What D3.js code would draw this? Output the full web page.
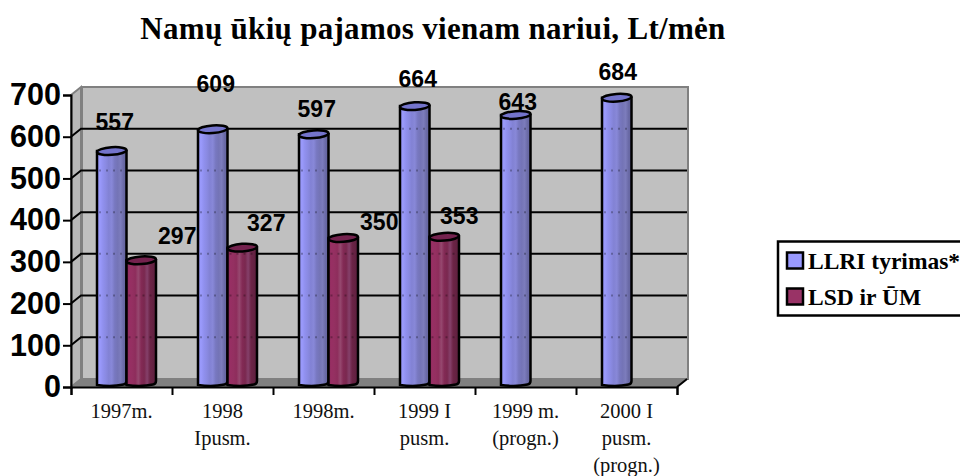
<!DOCTYPE html>
<html>
<head>
<meta charset="utf-8">
<script src="https://cdn.jsdelivr.net/npm/d3@7"></script>
<style>
  html, body { margin: 0; padding: 0; background: #fff; overflow: hidden; }
  .serif { font-family: "Liberation Serif", serif; }
  .sans { font-family: "Liberation Sans", sans-serif; }
</style>
</head>
<body>
<div id="chart"></div>
<script>
var categories = [
    ["1997m."],
    ["1998", "Ipusm."],
    ["1998m."],
    ["1999 I", "pusm."],
    ["1999 m.", "(progn.)"],
    ["2000 I", "pusm.", "(progn.)"]
];
var seriesNames = ["LLRI tyrimas*", "LSD ir ŪM"];
var llri = [557, 609, 597, 664, 643, 684];
var lsd = [297, 327, 350, 353, null, null];
var yTicks = [0, 100, 200, 300, 400, 500, 600, 700];
// hand placed data labels in the original, offset from the top of each bar
var llriNudge = [[3, -29], [3, -45], [3, -25], [3, -27], [2, -13], [1, -26]];
var lsdNudge = [[36, -24], [24, -25], [36, -16], [15, -21]];

var width = 960, height = 476;
var depthX = 10, depthY = 8;

var svg = d3.select("#chart").append("svg")
    .attr("width", width)
    .attr("height", height);

var left = 71, right = 677;
var x = d3.scaleBand().domain(d3.range(categories.length)).range([left, right]);
var xTick = d3.scaleLinear().domain([0, categories.length]).range([left, right]);
var inner = d3.scaleBand().domain([0, 1]).range([26, 85]);
var y = d3.scaleLinear().domain([0, 700]).range([387, 95]);
var yBar = d3.scaleLinear().domain([0, 700]).range([385, 91]);

// cylinder shading, light on the left and dark on the right
function addGradient(id, stops) {
    var g = svg.append("defs").append("linearGradient").attr("id", id);
    stops.forEach(function(s, i) {
        g.append("stop").attr("offset", i / (stops.length - 1)).attr("stop-color", s);
    });
}
addGradient("blueGrad", ["#9494f2", "#9a9afc", "#9090ee", "#8a8ae2", "#8282d4", "#8888d8", "#7878c0", "#7474b6", "#7c7cbc", "#6a6aa6", "#64649c"]);
addGradient("redGrad", ["#8c2a5c", "#972f63", "#943061", "#8e2d5c", "#96486f", "#832a55", "#7a284f", "#85406a", "#6c2446", "#642242", "#5a1e3c"]);

var walls = svg.append("g");
// back wall
walls.append("rect")
    .attr("x", left + depthX + 1).attr("y", y(700) - depthY)
    .attr("width", right - left).attr("height", y(0) - y(700))
    .attr("fill", "#c0c0c0").attr("stroke", "#808080").attr("stroke-width", 2);
// side wall
walls.append("path")
    .attr("d", d3.line()([[left, y(700)], [left + depthX, y(700) - depthY], [left + depthX, y(0) - depthY], [left, y(0)]]) + "Z")
    .attr("fill", "#b8b8b8").attr("stroke", "#808080").attr("stroke-width", 2);
// floor
walls.append("path")
    .attr("d", d3.line()([[left, y(0)], [left + depthX, y(0) - depthY], [right + depthX, y(0) - depthY], [right, y(0)]]) + "Z")
    .attr("fill", "#808080").attr("stroke", "#808080").attr("stroke-width", 1);

// gridlines with the little diagonal across the side wall
var gridPath = function(t) {
    return d3.line()([[left, y(t)], [left + depthX, y(t) - depthY], [right + depthX, y(t) - depthY]]);
};
var grid = svg.append("g").attr("stroke", "#000").attr("stroke-width", 2).attr("fill", "none");
yTicks.slice(1, -1).forEach(function(t) {
    grid.append("path").attr("d", gridPath(t));
});

function drawCylinders(values, idx, grad, topFill) {
    var bw = inner.bandwidth();
    var g = svg.append("g");
    values.forEach(function(v, i) {
        if (v === null) return;
        var x0 = x(i) + inner(idx), x1 = x0 + bw;
        var ty = yBar(v), by = yBar(0);
        g.append("path")
            .attr("d", "M" + x0 + "," + ty + "V" + by +
                "Q" + (x0 + bw / 2) + "," + (by + 2) + " " + (x1 - 3) + "," + (by - 0.5) +
                "Q" + x1 + "," + (by - 1) + " " + x1 + "," + (by - 4) +
                "V" + ty + "Z")
            .attr("fill", "url(#" + grad + ")")
            .attr("stroke", "#000").attr("stroke-width", 2.5);
        // gridlines faintly visible through the cylinder
        yTicks.slice(1, -1).forEach(function(t) {
            var gy = y(t) - depthY;
            if (gy > ty + 4) {
                g.append("line")
                    .attr("x1", x0 + 2).attr("x2", x1 - 2)
                    .attr("y1", gy).attr("y2", gy)
                    .attr("stroke", "#000").attr("stroke-width", 2)
                    .attr("stroke-opacity", 0.28)
                    .attr("stroke-dasharray", "2 5");
            }
        });
        g.append("ellipse")
            .attr("cx", (x0 + x1) / 2).attr("cy", ty)
            .attr("rx", bw / 2).attr("ry", 3.8)
            .attr("transform", "rotate(-4 " + ((x0 + x1) / 2) + " " + ty + ")")
            .attr("fill", topFill)
            .attr("stroke", "#000").attr("stroke-width", 2.5);
    });
}
drawCylinders(llri, 0, "blueGrad", "#7474cc");
drawCylinders(lsd, 1, "redGrad", "#74224e");

// front axes
var yAxis = d3.axisLeft(y).tickValues(yTicks).tickSize(8).tickPadding(2);
var axisY = svg.append("g").attr("transform", "translate(" + left + ",0)").call(yAxis);
axisY.select(".domain").attr("stroke", "#000").attr("stroke-width", 2);
axisY.selectAll(".tick line").attr("stroke", "#000").attr("stroke-width", 2);
axisY.selectAll("text")
    .attr("class", "sans")
    .style("font-size", "30.5px").style("font-weight", "bold").attr("fill", "#000")
    .attr("font-family", null);

var xAxis = d3.axisBottom(xTick).ticks(categories.length).tickSize(8).tickFormat("");
var axisX = svg.append("g").attr("transform", "translate(0," + y(0) + ")").call(xAxis);
axisX.select(".domain").attr("stroke", "#000").attr("stroke-width", 2);
axisX.selectAll(".tick line").attr("stroke", "#000").attr("stroke-width", 2);
// tick at the right end of the back wall
svg.append("path")
    .attr("d", d3.line()([[right, y(0)], [right + depthX, y(0) - depthY]]))
    .attr("stroke", "#000").attr("stroke-width", 2);

// category labels
categories.forEach(function(lines, i) {
    lines.forEach(function(txt, j) {
        svg.append("text")
            .attr("class", "serif")
            .attr("x", x(i) + x.bandwidth() / 2)
            .attr("y", 418 + j * 27)
            .attr("text-anchor", "middle")
            .style("font-size", "20.5px")
            .attr("fill", "#111")
            .text(txt);
    });
});

// data labels
function drawLabels(values, idx, nudge) {
    values.forEach(function(v, i) {
        if (v === null) return;
        svg.append("text")
            .attr("class", "sans")
            .attr("x", x(i) + inner(idx) + inner.bandwidth() / 2 + nudge[i][0])
            .attr("y", yBar(v) + nudge[i][1])
            .attr("dy", "0.35em")
            .attr("text-anchor", "middle")
            .style("font-size", "23px").style("font-weight", "bold")
            .attr("fill", "#000")
            .text(v);
    });
}
drawLabels(llri, 0, llriNudge);
drawLabels(lsd, 1, lsdNudge);

// title
svg.append("text")
    .attr("class", "serif")
    .attr("x", 433).attr("y", 39)
    .attr("text-anchor", "middle")
    .style("font-size", "31px").style("font-weight", "bold")
    .style("letter-spacing", "0.3px")
    .text("Namų ūkių pajamos vienam nariui, Lt/mėn");

// legend, runs off the right edge as in the original
var legend = svg.append("g");
legend.append("rect")
    .attr("x", 778).attr("y", 241.5)
    .attr("width", 200).attr("height", 74)
    .attr("fill", "#fff").attr("stroke", "#000").attr("stroke-width", 2.5);
var legendFill = ["#9999ff", "#993366"];
seriesNames.forEach(function(name, i) {
    legend.append("rect")
        .attr("x", 787).attr("y", 252.5 + i * 36)
        .attr("width", 16).attr("height", 16)
        .attr("fill", legendFill[i]).attr("stroke", "#000").attr("stroke-width", 2.5);
    legend.append("text")
        .attr("class", "serif")
        .attr("x", 808).attr("y", 268.5 + i * 36.5)
        .style("font-size", "23.5px").style("font-weight", "bold")
        .text(name);
});
</script>
</body>
</html>
